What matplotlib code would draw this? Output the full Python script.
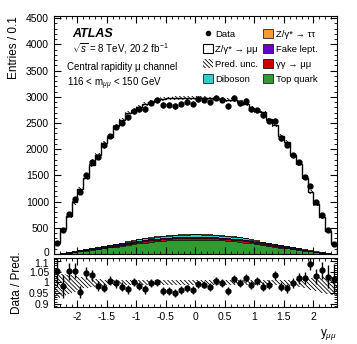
import numpy as np
import matplotlib
matplotlib.use("Agg")
import matplotlib.pyplot as plt
import matplotlib.patches as mpatches
import matplotlib.transforms as mtransforms
from matplotlib.lines import Line2D
from matplotlib.ticker import MultipleLocator, FixedLocator

plt.rcParams['font.family'] = ['Liberation Sans', 'DejaVu Sans']
plt.rcParams['mathtext.fontset'] = 'custom'
plt.rcParams['mathtext.rm'] = 'Liberation Sans'
plt.rcParams['mathtext.it'] = 'Liberation Sans:italic'
plt.rcParams['mathtext.bf'] = 'Liberation Sans:bold'
plt.rcParams['hatch.linewidth'] = 0.6

# bin edges in y_mumu, 0.1 wide
edges = np.round(np.arange(-2.4, 2.41, 0.1), 2)
centers = (edges[:-1] + edges[1:]) / 2

# total prediction (signal + backgrounds)
pred = [200, 470, 720, 985, 1240, 1445, 1705, 1890, 2125, 2235, 2440, 2555,
        2695, 2725, 2810, 2865, 2895, 2935, 2960, 2970, 2975, 2980, 2985, 2980,
        2985, 2975, 2970, 2965, 2960, 2945, 2935, 2895, 2865, 2795, 2720, 2705,
        2570, 2460, 2255, 2140, 1890, 1715, 1445, 1190, 960, 710, 445, 185]

data = [211, 461, 758, 1040, 1184, 1510, 1761, 1858, 2072, 2251, 2430, 2504,
        2606, 2728, 2765, 2770, 2889, 2935, 2842, 2851, 2826, 2870, 2901, 2870,
        2958, 2945, 2902, 2986, 2948, 2827, 2985, 2883, 2922, 2761, 2739, 2651,
        2544, 2541, 2210, 2080, 1882, 1749, 1474, 1296, 987, 750, 457, 188]

ratio_err = [0.07, 0.055, 0.04, 0.035, 0.03, 0.028, 0.025, 0.024, 0.022, 0.021, 0.02, 0.02,
             0.02, 0.019, 0.019, 0.019, 0.019, 0.018, 0.018, 0.018, 0.018, 0.018, 0.018, 0.018,
             0.018, 0.018, 0.018, 0.018, 0.018, 0.018, 0.018, 0.019, 0.019, 0.019, 0.019, 0.02,
             0.02, 0.02, 0.021, 0.022, 0.024, 0.025, 0.028, 0.03, 0.035, 0.04, 0.055, 0.07]

unc_lo = [0.925, 0.935, 0.945, 0.955, 0.965, 0.972, 0.978, 0.982, 0.985, 0.987, 0.987, 0.987,
          0.987, 0.987, 0.987, 0.987, 0.987, 0.987, 0.987, 0.987, 0.987, 0.987, 0.987, 0.987,
          0.987, 0.987, 0.987, 0.987, 0.987, 0.987, 0.987, 0.987, 0.987, 0.987, 0.987, 0.987,
          0.987, 0.987, 0.986, 0.985, 0.982, 0.978, 0.972, 0.965, 0.958, 0.95, 0.945, 0.94]
unc_hi = [1.045, 1.04, 1.035, 1.03, 1.025, 1.02, 1.017, 1.015, 1.013, 1.012, 1.012, 1.012,
          1.012, 1.012, 1.012, 1.012, 1.012, 1.012, 1.012, 1.012, 1.012, 1.012, 1.012, 1.012,
          1.012, 1.012, 1.012, 1.012, 1.012, 1.012, 1.012, 1.012, 1.012, 1.012, 1.012, 1.012,
          1.012, 1.012, 1.012, 1.012, 1.013, 1.015, 1.017, 1.02, 1.022, 1.025, 1.027, 1.03]

top_quark = [4, 12, 22, 34, 48, 62, 76, 91, 107, 122, 138, 155, 171, 187, 202, 216, 229, 241, 251, 258, 264, 268, 271, 272,
             273, 270, 267, 263, 257, 250, 242, 230, 217, 201, 186, 170, 154, 139, 121, 106, 90, 75, 61, 47, 33, 21, 11, 4]
gamgam = [0, 1, 3, 4, 6, 8, 10, 11, 13, 15, 17, 19, 21, 23, 25, 27, 29, 30, 31, 32, 33, 33, 34, 34,
          34, 34, 33, 33, 32, 31, 30, 29, 27, 25, 23, 21, 19, 17, 15, 13, 11, 10, 8, 6, 4, 3, 1, 0]
fakes = [0, 1, 2, 3, 4, 5, 6, 8, 9, 10, 12, 13, 14, 16, 17, 18, 19, 20, 21, 21, 22, 22, 23, 23,
         23, 23, 22, 22, 21, 21, 20, 19, 18, 17, 16, 14, 13, 12, 10, 9, 8, 6, 5, 4, 3, 2, 1, 0]
diboson = [1, 2, 3, 5, 7, 9, 12, 14, 16, 19, 21, 24, 26, 29, 31, 33, 35, 37, 38, 39, 40, 41, 41, 41,
           41, 41, 41, 40, 39, 38, 37, 35, 33, 31, 29, 26, 24, 21, 19, 16, 14, 12, 9, 7, 5, 3, 2, 1]
ztautau = [0, 0, 0, 1, 1, 2, 2, 3, 3, 3, 4, 4, 5, 5, 6, 6, 6, 7, 7, 7, 7, 8, 8, 8,
           8, 8, 8, 7, 7, 7, 7, 6, 6, 6, 5, 5, 4, 4, 3, 3, 3, 2, 2, 1, 1, 0, 0, 0]

c_top = '#339933'
c_gg = '#cc0000'
c_fake = '#6600cc'
c_dib = '#33cccc'
c_ztt = '#ff9933'
hatch = '\\' * 8

pred = np.array(pred, float)
data = np.array(data, float)
ratio = data / pred
ratio_err = np.array(ratio_err)
unc_lo = np.array(unc_lo)
unc_hi = np.array(unc_hi)

fig = plt.figure(figsize=(3.57, 3.44), dpi=100)
ax = fig.add_axes([0.151, 0.262, 0.793, 0.691])
rax = fig.add_axes([0.151, 0.108, 0.793, 0.142])

# stacked backgrounds
base = np.zeros(len(pred))
for vals, col in [(top_quark, c_top), (gamgam, c_gg), (fakes, c_fake), (diboson, c_dib), (ztautau, c_ztt)]:
    top = base + np.array(vals)
    ax.stairs(top, edges, baseline=base, fill=True, color=col, lw=0)
    ax.stairs(top, edges, color='black', lw=0.5)
    base = top
ax.stairs(pred, edges, baseline=base, fill=True, color='white', lw=0)
ax.stairs(pred * unc_hi, edges, baseline=pred * unc_lo, fill=True, facecolor='none',
          edgecolor='black', hatch=hatch, lw=0)
ax.stairs(pred, edges, color='black', lw=1.0)
ax.errorbar(centers, data, yerr=ratio_err * pred, fmt='o', color='black', ms=3.5, elinewidth=1, capsize=0)

ax.set_xlim(-2.4, 2.4)
ax.set_ylim(0, 4540)
ax.set_yticks([0, 500, 1000, 1500, 2000, 2500, 3000, 3500, 4000, 4500])
ax.yaxis.set_minor_locator(MultipleLocator(100))
ax.xaxis.set_major_locator(MultipleLocator(0.5))
ax.xaxis.set_minor_locator(MultipleLocator(0.1))
ax.tick_params(labelbottom=False)
ax.set_ylabel('Entries / 0.1', loc='top', fontsize=8.5)

ax.text(0.065, 0.912, 'ATLAS', transform=ax.transAxes, fontsize=9, fontweight='bold', style='italic')
ax.text(0.065, 0.847, r'$\sqrt{s}$ = 8 TeV, 20.2 fb$^{-1}$', transform=ax.transAxes, fontsize=7)
ax.text(0.045, 0.772, 'Central rapidity μ channel', transform=ax.transAxes, fontsize=7)
ax.text(0.045, 0.707, r'116 < m$_{\mu\mu}$ < 150 GeV', transform=ax.transAxes, fontsize=7)

h_data = Line2D([], [], marker='o', color='black', ms=3, lw=0)
h_zmm = mpatches.Patch(facecolor='white', edgecolor='black', lw=0.8)
h_unc = mpatches.Patch(facecolor='white', edgecolor='black', hatch=hatch, lw=0)
h_dib = mpatches.Patch(facecolor=c_dib, edgecolor='black', lw=0.5)
h_ztt = mpatches.Patch(facecolor=c_ztt, edgecolor='black', lw=0.5)
h_fake = mpatches.Patch(facecolor=c_fake, edgecolor='black', lw=0.5)
h_gg = mpatches.Patch(facecolor=c_gg, edgecolor='black', lw=0.5)
h_top = mpatches.Patch(facecolor=c_top, edgecolor='black', lw=0.5)
ax.legend([h_data, h_zmm, h_unc, h_dib, h_ztt, h_fake, h_gg, h_top],
          ['Data', 'Z/γ* → μμ', 'Pred. unc.', 'Diboson', 'Z/γ* → ττ', 'Fake lept.', 'γγ → μμ', 'Top quark'],
          loc='upper left', bbox_to_anchor=(0.525, 0.945), ncol=2, frameon=False, fontsize=6.8,
          handlelength=1.1, handleheight=1.1, handletextpad=0.25, columnspacing=0.5,
          labelspacing=0.55, borderpad=0, borderaxespad=0)

# ratio panel
rax.stairs(unc_hi, edges, baseline=unc_lo, fill=True, facecolor='none',
           edgecolor='black', hatch=hatch, lw=0)
rax.errorbar(centers, ratio, yerr=ratio_err, fmt='o', color='black', ms=3.5, elinewidth=1, capsize=0)
rax.set_xlim(-2.4, 2.4)
rax.set_ylim(0.885, 1.115)
rax.yaxis.set_major_locator(FixedLocator([0.9, 0.95, 1.0, 1.05, 1.1]))
rax.set_yticklabels(['0.9', '0.95', '1', '1.05', '1.1'])
rax.xaxis.set_minor_locator(MultipleLocator(0.1))
rax.yaxis.set_minor_locator(MultipleLocator(0.01))
rax.set_xticks([-2, -1.5, -1, -0.5, 0, 0.5, 1, 1.5, 2])
rax.set_xticklabels(['-2', '-1.5', '-1', '-0.5', '0', '0.5', '1', '1.5', '2'])
rax.set_ylabel('Data / Pred.', fontsize=8.5)
rax.set_xlabel(r'y$_{\mu\mu}$', loc='right', fontsize=8.5)

for a in (ax, rax):
    a.tick_params(which='both', direction='in', top=True, right=True, labelsize=7.5)
    a.tick_params(which='major', length=5)
    a.tick_params(which='minor', length=2.5)

# nudge the two touching labels at the panel join apart
fig.canvas.draw()
zero_lab = ax.yaxis.get_major_ticks()[0].label1
zero_lab.set_transform(zero_lab.get_transform() + mtransforms.ScaledTranslation(0, 1.5 / 72, fig.dpi_scale_trans))
top_lab = rax.yaxis.get_major_ticks()[-1].label1
top_lab.set_transform(top_lab.get_transform() + mtransforms.ScaledTranslation(0, -1.5 / 72, fig.dpi_scale_trans))

fig.savefig('out.png', dpi=100)
